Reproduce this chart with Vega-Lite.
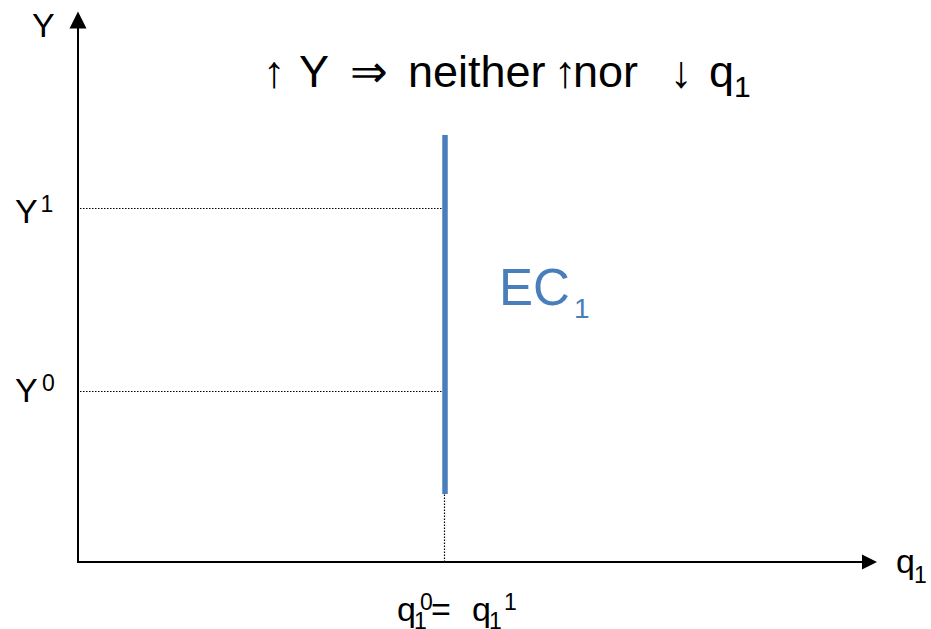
{
  "$schema": "https://vega.github.io/schema/vega-lite/v6.json",
  "width": 931,
  "height": 629,
  "autosize": {"type": "none"},
  "padding": 0,
  "background": "white",
  "config": {"view": {"stroke": null}, "text": {"font": "Liberation Sans"}},
  "datasets": {
    "axes": [
      {"x": 0, "y": 0, "x2": 0, "y2": 54},
      {"x": 0, "y": 0, "x2": 78.8, "y2": 0}
    ],
    "guides": [
      {"x": 0.2, "y": 35.35, "x2": 36.5, "y2": 35.35},
      {"x": 0.2, "y": 17.05, "x2": 36.5, "y2": 17.05},
      {"x": 36.65, "y": 0, "x2": 36.65, "y2": 6.8}
    ],
    "ec": [
      {"x": 36.7, "y": 6.8, "x2": 36.7, "y2": 42.7}
    ],
    "heads": [
      {"x": 0, "y": 54.2, "dir": "up"},
      {"x": 79.15, "y": 0, "dir": "right"}
    ],
    "labels": [
      {"x": -4.6, "y": 52.5, "text": "Y"},
      {"x": -6.3, "y": 33.9, "text": "Y"},
      {"x": -6.3, "y": 16.0, "text": "Y"},
      {"x": 81.8, "y": -1.06, "text": "q"},
      {"x": 31.9, "y": -5.9, "text": "q"},
      {"x": 35.3, "y": -5.9, "text": "="},
      {"x": 39.4, "y": -5.9, "text": "q"}
    ],
    "title": [
      {"x": 18.5, "y": 47.5, "text": "↑"},
      {"x": 22.1, "y": 47.5, "text": "Y"},
      {"x": 27.2, "y": 47.5, "text": "⇒"},
      {"x": 33.0, "y": 47.5, "text": "neither"},
      {"x": 47.6, "y": 47.5, "text": "↑"},
      {"x": 49.5, "y": 47.5, "text": "nor"},
      {"x": 59.2, "y": 47.5, "text": "↓"},
      {"x": 63.1, "y": 47.5, "text": "q"}
    ],
    "scripts": [
      {"x": -3.75, "y": 35.0, "text": "1"},
      {"x": -3.6, "y": 17.1, "text": "0"},
      {"x": 83.6, "y": -2.1, "text": "1"},
      {"x": 33.6, "y": -6.7, "text": "1"},
      {"x": 34.2, "y": -4.8, "text": "0"},
      {"x": 41.1, "y": -6.7, "text": "1"},
      {"x": 42.6, "y": -4.8, "text": "1"}
    ],
    "titlescripts": [
      {"x": 65.6, "y": 46.5, "text": "1"}
    ],
    "eclabel": [
      {"x": 42.1, "y": 25.7, "text": "EC"}
    ],
    "ecscript": [
      {"x": 49.6, "y": 24.4, "text": "1"}
    ]
  },
  "encoding": {
    "x": {"field": "x", "type": "quantitative", "scale": {"domain": [-7.8, 85.3], "nice": false, "zero": false}, "axis": null},
    "y": {"field": "y", "type": "quantitative", "scale": {"domain": [-6.7, 56.2], "nice": false, "zero": false}, "axis": null}
  },
  "layer": [
    {
      "data": {"name": "guides"},
      "mark": {"type": "rule", "color": "black", "strokeWidth": 1.2, "strokeDash": [1.5, 1.5]},
      "encoding": {"x2": {"field": "x2"}, "y2": {"field": "y2"}}
    },
    {
      "data": {"name": "axes"},
      "mark": {"type": "rule", "color": "black", "strokeWidth": 2, "strokeCap": "square"},
      "encoding": {"x2": {"field": "x2"}, "y2": {"field": "y2"}}
    },
    {
      "data": {"name": "ec"},
      "mark": {"type": "rule", "color": "#4a7ebb", "strokeWidth": 5.5, "strokeCap": "butt"},
      "encoding": {"x2": {"field": "x2"}, "y2": {"field": "y2"}}
    },
    {
      "data": {"name": "heads"},
      "transform": [{"filter": "datum.dir === 'up'"}],
      "mark": {"type": "point", "shape": "M0,-1L1,1L-1,1Z", "size": 289, "filled": true, "color": "black", "opacity": 1}
    },
    {
      "data": {"name": "heads"},
      "transform": [{"filter": "datum.dir === 'right'"}],
      "mark": {"type": "point", "shape": "M1,0L-1,-1L-1,1Z", "size": 225, "filled": true, "color": "black", "opacity": 1}
    },
    {
      "data": {"name": "labels"},
      "mark": {"type": "text", "fontSize": 34, "align": "left", "baseline": "alphabetic", "color": "black"},
      "encoding": {"text": {"field": "text"}}
    },
    {
      "data": {"name": "title"},
      "mark": {"type": "text", "fontSize": 45, "align": "left", "baseline": "alphabetic", "color": "black"},
      "encoding": {"text": {"field": "text"}}
    },
    {
      "data": {"name": "scripts"},
      "mark": {"type": "text", "fontSize": 23, "align": "left", "baseline": "alphabetic", "color": "black"},
      "encoding": {"text": {"field": "text"}}
    },
    {
      "data": {"name": "titlescripts"},
      "mark": {"type": "text", "fontSize": 30, "align": "left", "baseline": "alphabetic", "color": "black"},
      "encoding": {"text": {"field": "text"}}
    },
    {
      "data": {"name": "eclabel"},
      "mark": {"type": "text", "fontSize": 51, "align": "left", "baseline": "alphabetic", "color": "#4a7ebb"},
      "encoding": {"text": {"field": "text"}}
    },
    {
      "data": {"name": "ecscript"},
      "mark": {"type": "text", "fontSize": 28, "align": "left", "baseline": "alphabetic", "color": "#4a7ebb"},
      "encoding": {"text": {"field": "text"}}
    }
  ]
}
